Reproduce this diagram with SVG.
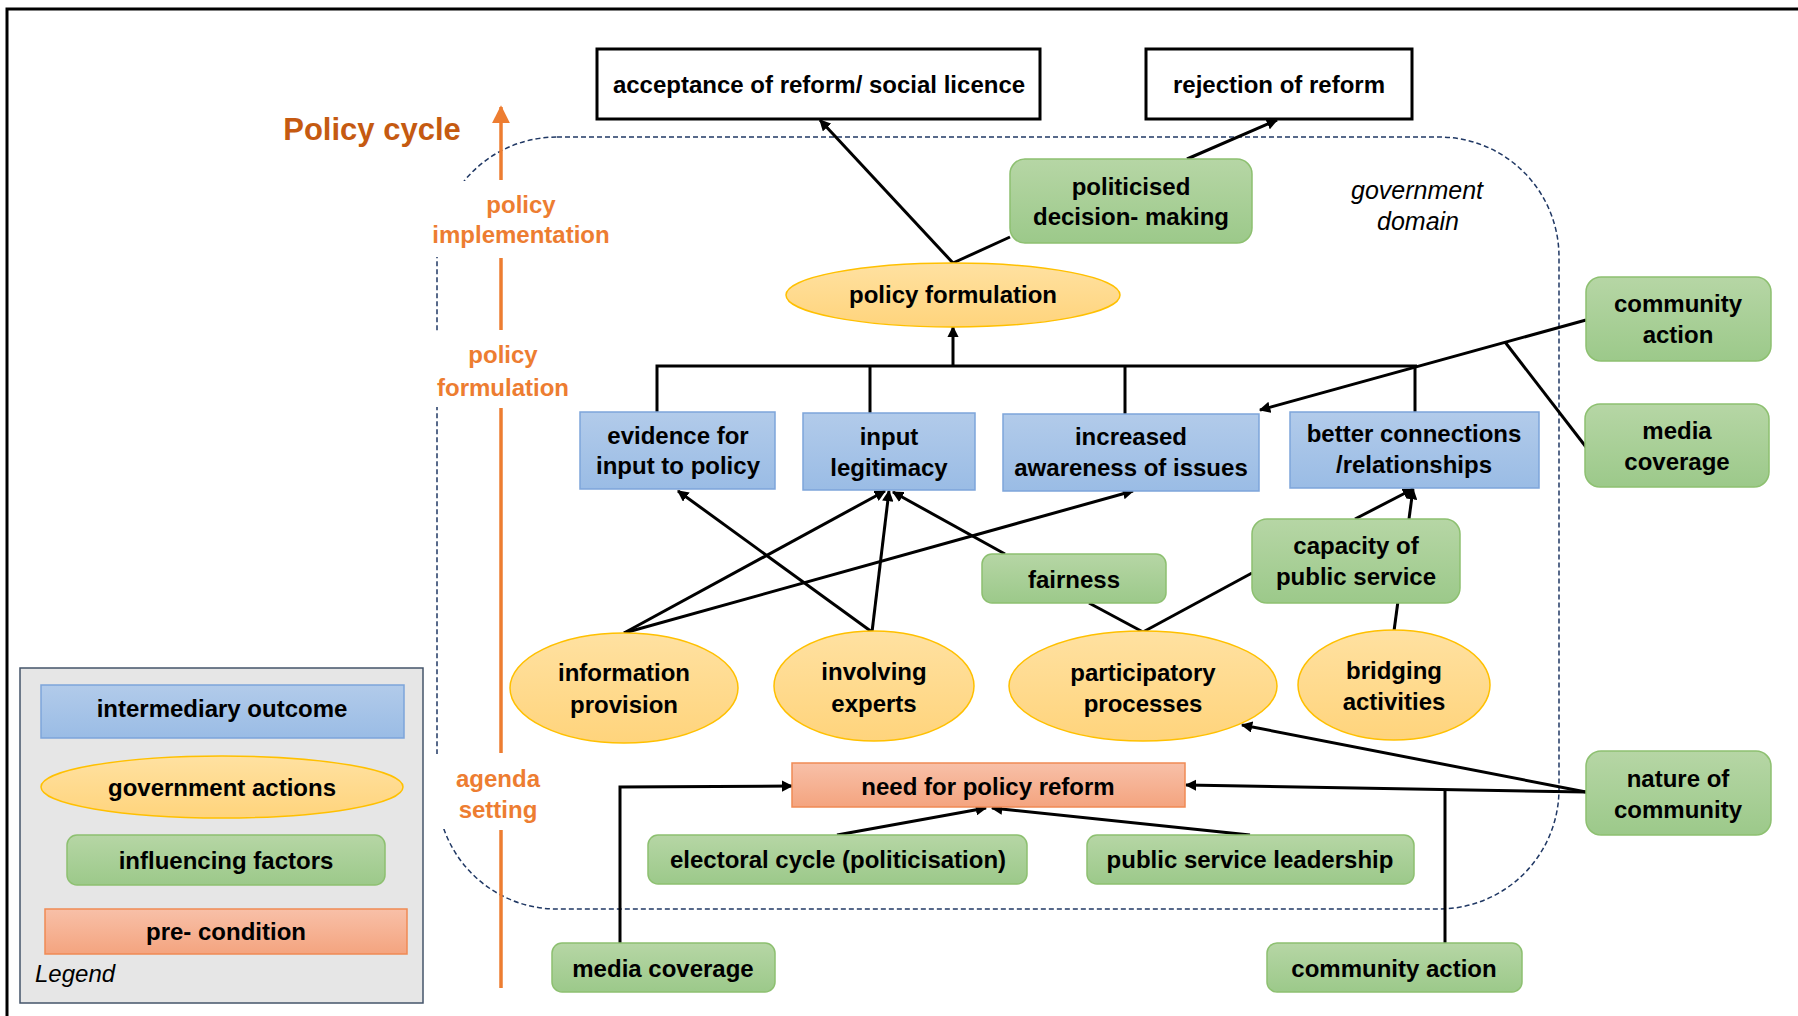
<svg xmlns="http://www.w3.org/2000/svg" width="1798" height="1016" viewBox="0 0 1798 1016">
<defs>
<linearGradient id="gBlue" x1="0" y1="0" x2="0" y2="1"><stop offset="0" stop-color="#B2CBEA"/><stop offset="1" stop-color="#9ABCE5"/></linearGradient>
<linearGradient id="gGreen" x1="0" y1="0" x2="0" y2="1"><stop offset="0" stop-color="#B6D6A5"/><stop offset="1" stop-color="#9CC98A"/></linearGradient>
<linearGradient id="gYellow" x1="0" y1="0" x2="0" y2="1"><stop offset="0" stop-color="#FFE1A1"/><stop offset="1" stop-color="#FFD47C"/></linearGradient>
<linearGradient id="gSalmon" x1="0" y1="0" x2="0" y2="1"><stop offset="0" stop-color="#F8C0A8"/><stop offset="1" stop-color="#F4A47F"/></linearGradient>
<marker id="arr" viewBox="0 0 10 10" refX="9" refY="5" markerWidth="3.8" markerHeight="3.8" orient="auto"><path d="M0,0 L10,5 L0,10 z" fill="#000"/></marker>
<marker id="oarr" viewBox="0 0 10 10" refX="9" refY="5" markerWidth="5.2" markerHeight="5.2" orient="auto"><path d="M0,0 L10,5 L0,10 z" fill="#ED7D31"/></marker>
</defs>
<style>
.t{font-family:"Liberation Sans",Arial,sans-serif;font-weight:bold;font-size:24px;text-anchor:middle;fill:#000}
.o{font-family:"Liberation Sans",Arial,sans-serif;font-weight:bold;font-size:24px;text-anchor:middle;fill:#ED7D31}
.it{font-family:"Liberation Sans",Arial,sans-serif;font-style:italic;font-size:25px;text-anchor:middle;fill:#000}
.blue{fill:url(#gBlue);stroke:#7DA5DA;stroke-width:1.5}
.green{fill:url(#gGreen);stroke:#8DC070;stroke-width:1.5}
.yellow{fill:url(#gYellow);stroke:#FFC000;stroke-width:1.5}
.salmon{fill:url(#gSalmon);stroke:#F08A54;stroke-width:1.5}
.white{fill:#fff;stroke:#000;stroke-width:3}
.c{fill:none;stroke:#000;stroke-width:3}
.ca{fill:none;stroke:#000;stroke-width:3;marker-end:url(#arr)}
</style>
<rect x="0" y="0" width="1798" height="1016" fill="#fff"/>
<rect x="7" y="9" width="1810" height="1030" fill="none" stroke="#000" stroke-width="3"/>

<!-- government domain -->
<rect x="437" y="137" width="1122" height="772" rx="120" ry="120" fill="none" stroke="#203864" stroke-width="1.5" stroke-dasharray="5 3"/>
<text class="it" x="1417" y="199">government</text>
<text class="it" x="1418" y="230">domain</text>

<!-- policy cycle -->
<g id="policy-cycle">
<text x="372" y="140" style="font-family:'Liberation Sans',Arial,sans-serif;font-weight:bold;font-size:31px;fill:#C55A11;text-anchor:middle">Policy cycle</text>
<rect x="428" y="181" width="188" height="76" fill="#fff"/>
<rect x="430" y="331" width="150" height="76" fill="#fff"/>
<rect x="436" y="754" width="120" height="75" fill="#fff"/>
<line x1="501" y1="180" x2="501" y2="107" stroke="#ED7D31" stroke-width="3.5" marker-end="url(#oarr)"/>
<line x1="501" y1="258" x2="501" y2="330" stroke="#ED7D31" stroke-width="3.5"/>
<line x1="501" y1="408" x2="501" y2="753" stroke="#ED7D31" stroke-width="3.5"/>
<line x1="501" y1="830" x2="501" y2="988" stroke="#ED7D31" stroke-width="3.5"/>
<text class="o" x="521" y="213">policy</text>
<text class="o" x="521" y="243">implementation</text>
<text class="o" x="503" y="363">policy</text>
<text class="o" x="503" y="396">formulation</text>
<text class="o" x="498" y="787">agenda</text>
<text class="o" x="498" y="818">setting</text>
</g>

<!-- connectors -->
<g id="connectors">
<line class="ca" x1="953" y1="263" x2="820" y2="120"/>
<line class="c" x1="953" y1="263" x2="1010" y2="237"/>
<line class="ca" x1="1187" y1="159" x2="1277" y2="120"/>
<polyline class="c" points="657,412 657,366 1417,366"/>
<line class="c" x1="870" y1="366" x2="870" y2="413"/>
<line class="c" x1="1125" y1="366" x2="1125" y2="414"/>
<line class="c" x1="1415" y1="366" x2="1415" y2="412"/>
<line class="ca" x1="953" y1="366" x2="953" y2="327"/>
<line class="ca" x1="1586" y1="320" x2="1260" y2="410"/>
<line class="c" x1="1505" y1="342" x2="1586" y2="447"/>
<line class="ca" x1="624" y1="633" x2="885" y2="491"/>
<line class="ca" x1="624" y1="633" x2="1133" y2="491"/>
<line class="ca" x1="872" y1="632" x2="678" y2="491"/>
<line class="ca" x1="872" y1="632" x2="889" y2="491"/>
<line class="ca" x1="1005" y1="554" x2="893" y2="492"/>
<line class="c" x1="1143" y1="632" x2="1089" y2="603"/>
<line class="c" x1="1143" y1="632" x2="1252" y2="573"/>
<line class="ca" x1="1355" y1="519" x2="1413" y2="489"/>
<line class="ca" x1="1394" y1="631" x2="1413" y2="489"/>
<line class="ca" x1="1586" y1="792" x2="1242" y2="725"/>
<line class="ca" x1="1586" y1="792" x2="1186" y2="785"/>
<line class="c" x1="1445" y1="943" x2="1445" y2="789"/>
<polyline class="ca" points="620,943 620,787 792,786"/>
<line class="ca" x1="837" y1="835" x2="986" y2="808"/>
<line class="ca" x1="1250" y1="835" x2="992" y2="808"/>
</g>

<!-- nodes -->
<g id="acceptance"><rect class="white" x="597" y="49" width="443" height="70"/><text class="t" x="819" y="93">acceptance of reform/ social licence</text></g>
<g id="rejection"><rect class="white" x="1146" y="49" width="266" height="70"/><text class="t" x="1279" y="93">rejection of reform</text></g>
<g id="politicised"><rect class="green" x="1010" y="159" width="242" height="84" rx="15"/><text class="t" x="1131" y="195">politicised</text><text class="t" x="1131" y="225">decision- making</text></g>
<g id="policy-formulation"><ellipse class="yellow" cx="953" cy="295" rx="167" ry="32"/><text class="t" x="953" y="303">policy formulation</text></g>

<g id="evidence"><rect class="blue" x="580" y="412" width="195" height="77"/><text class="t" x="678" y="444">evidence for</text><text class="t" x="678" y="474">input to policy</text></g>
<g id="input-legitimacy"><rect class="blue" x="803" y="413" width="172" height="77"/><text class="t" x="889" y="445">input</text><text class="t" x="889" y="476">legitimacy</text></g>
<g id="increased-awareness"><rect class="blue" x="1003" y="414" width="256" height="77"/><text class="t" x="1131" y="445">increased</text><text class="t" x="1131" y="476">awareness of issues</text></g>
<g id="better-connections"><rect class="blue" x="1290" y="412" width="249" height="76"/><text class="t" x="1414" y="442">better connections</text><text class="t" x="1414" y="473">/relationships</text></g>

<g id="community-action-right"><rect class="green" x="1586" y="277" width="185" height="84" rx="15"/><text class="t" x="1678" y="312">community</text><text class="t" x="1678" y="343">action</text></g>
<g id="media-coverage-right"><rect class="green" x="1585" y="404" width="184" height="83" rx="15"/><text class="t" x="1677" y="439">media</text><text class="t" x="1677" y="470">coverage</text></g>
<g id="nature-of-community"><rect class="green" x="1586" y="751" width="185" height="84" rx="15"/><text class="t" x="1678" y="787">nature of</text><text class="t" x="1678" y="818">community</text></g>

<g id="fairness"><rect class="green" x="982" y="554" width="184" height="49" rx="10"/><text class="t" x="1074" y="588">fairness</text></g>
<g id="capacity"><rect class="green" x="1252" y="519" width="208" height="84" rx="15"/><text class="t" x="1356" y="554">capacity of</text><text class="t" x="1356" y="585">public service</text></g>

<g id="information-provision"><ellipse class="yellow" cx="624" cy="688" rx="114" ry="55"/><text class="t" x="624" y="681">information</text><text class="t" x="624" y="713">provision</text></g>
<g id="involving-experts"><ellipse class="yellow" cx="874" cy="686" rx="100" ry="55"/><text class="t" x="874" y="680">involving</text><text class="t" x="874" y="712">experts</text></g>
<g id="participatory-processes"><ellipse class="yellow" cx="1143" cy="686" rx="134" ry="55"/><text class="t" x="1143" y="681">participatory</text><text class="t" x="1143" y="712">processes</text></g>
<g id="bridging-activities"><ellipse class="yellow" cx="1394" cy="685" rx="96" ry="55"/><text class="t" x="1394" y="679">bridging</text><text class="t" x="1394" y="710">activities</text></g>

<g id="need-for-reform"><rect class="salmon" x="792" y="763" width="393" height="44"/><text class="t" x="988" y="795">need for policy reform</text></g>
<g id="electoral-cycle"><rect class="green" x="648" y="835" width="379" height="49" rx="10"/><text class="t" x="838" y="868">electoral cycle (politicisation)</text></g>
<g id="public-service-leadership"><rect class="green" x="1087" y="835" width="327" height="49" rx="10"/><text class="t" x="1250" y="868">public service leadership</text></g>
<g id="media-coverage-bottom"><rect class="green" x="552" y="943" width="223" height="49" rx="10"/><text class="t" x="663" y="977">media coverage</text></g>
<g id="community-action-bottom"><rect class="green" x="1267" y="943" width="255" height="49" rx="10"/><text class="t" x="1394" y="977">community action</text></g>

<!-- legend -->
<g id="legend">
<rect x="20" y="668" width="403" height="335" fill="#E6E6E6" stroke="#44546A" stroke-width="1.5"/>
<rect class="blue" x="41" y="685" width="363" height="53"/><text class="t" x="222" y="717">intermediary outcome</text>
<ellipse class="yellow" cx="222" cy="787" rx="181" ry="31"/><text class="t" x="222" y="796">government actions</text>
<rect class="green" x="67" y="835" width="318" height="50" rx="10"/><text class="t" x="226" y="869">influencing factors</text>
<rect class="salmon" x="45" y="909" width="362" height="45"/><text class="t" x="226" y="940">pre- condition</text>
<text x="35" y="982" style="font-family:'Liberation Sans',Arial,sans-serif;font-style:italic;font-size:24px;fill:#000">Legend</text>
</g>
</svg>
